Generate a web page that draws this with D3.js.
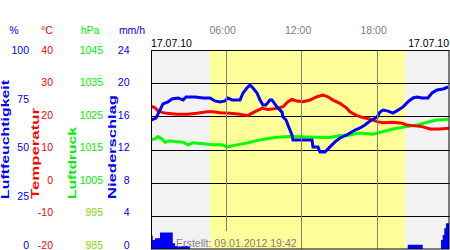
<!DOCTYPE html>
<html><head><meta charset="utf-8">
<script src="https://cdn.jsdelivr.net/npm/d3@7/dist/d3.min.js"></script>
<style>
body{margin:0;background:#fff;}
text{font-family:"Liberation Sans",Arial,sans-serif;}
</style></head><body>
<svg id="c" width="450" height="250"></svg>
<script>
// ---- data ----
const dateLabel = "17.07.10";
const timeTicks = [6, 12, 18];
const timeTickLabels = ["06:00", "12:00", "18:00"];
const sunrise = 4.75, sunset = 20.25;
const humTicks = [0, 25, 50, 75, 100];
const tempTicks = [-20, -10, 0, 10, 20, 30, 40];
const pressTicks = [985, 995, 1005, 1015, 1025, 1035, 1045];
const precTicks = [0, 4, 8, 12, 16, 20, 24];

const humT = [0.06,0.46,0.86,1.02,1.41,1.73,2.21,2.61,2.85,3.56,4.2,4.75,5.15,5.55,5.94,6.18,6.5,7.14,7.38,7.69,7.93,8.17,8.49,8.73,8.96,9.2,9.52,9.68,10.08,10.48,10.56,10.8,10.95,11.11,11.27,11.35,12.86,12.94,13.34,13.5,13.89,14.29,14.69,15.09,15.64,15.88,16.28,16.68,17.07,17.47,18.03,18.27,18.51,18.91,19.3,19.7,20.1,20.49,20.89,21.21,21.61,22.08,22.4,22.8,23.28,23.68];
const humV = [64.8,65.8,70.9,72.9,73.9,75.4,75.9,74.9,76.4,76.4,75.9,75.9,74.4,73.9,74.4,75.9,74.9,74.9,78.4,80.9,82.4,80.9,78.4,74.9,72.4,72.4,74.9,74.9,71.4,68.8,66.3,64.8,62.3,59.8,57.3,54.8,54.8,51.3,51.3,48.7,48.7,51.3,53.8,55.8,57.3,58.3,59.8,60.8,62.3,64.3,66.3,68.8,69.8,69.3,68.3,69.8,71.4,73.9,75.9,76.4,75.9,75.9,78.4,79.9,80.4,81.4];

const tempT = [0.06,0.38,0.62,0.94,1.34,2.13,2.93,3.72,4.52,5.0,5.55,6.34,7.14,7.77,7.93,8.33,8.89,9.36,10.08,10.56,10.95,11.27,11.67,12.15,12.7,13.26,13.74,14.13,14.53,15.09,15.64,15.88,16.44,16.92,17.47,18.03,18.51,19.3,20.02,20.41,20.89,21.61,22.24,23.04,23.75];
const tempV = [23.1,22.6,21.6,21.2,20.9,20.6,20.6,20.9,21.4,21.4,21.1,20.9,20.6,20.2,20.6,21.4,22.4,22.1,22.4,22.9,24.4,25.1,24.6,24.4,24.9,25.9,26.4,25.9,24.9,23.9,22.4,21.4,20.2,19.6,19.2,18.4,18.1,18.2,17.9,17.4,17.2,16.9,16.2,16.2,16.4];

const pressT = [0.06,0.38,0.62,0.94,1.18,1.57,2.13,2.61,3.0,3.4,4.2,5.0,5.71,6.1,6.9,7.77,7.93,8.73,9.52,10.08,11.11,13.26,14.29,15.09,15.88,16.44,16.92,17.71,18.51,19.3,20.41,21.21,22.0,22.8,23.67];
const pressV = [1017.9,1018.2,1018.9,1018.2,1017.2,1017.6,1017.3,1017.2,1016.4,1017.0,1016.7,1016.4,1016.4,1015.8,1016.4,1017.0,1017.2,1017.9,1018.4,1018.7,1018.9,1018.7,1018.6,1019.2,1019.4,1019.9,1019.9,1019.6,1020.4,1021.2,1021.9,1022.4,1023.2,1023.9,1024.1];

const precT = [0.06,0.2,0.38,0.78,1.79,1.97,3.16,20.47,21.66,23.12,23.25,23.38,23.51,23.75];
const precV = [1.6,1.1,1.3,2.0,0.7,0.35,0,0.5,0,1.1,1.7,2.5,3.1,3.1];

const createdText = "Erstellt: 09.01.2012 19:42";

// ---- layout ----
const L = 151, R = 449.5, T = 50, B = 249;
const svg = d3.select("#c");
const x = d3.scaleLinear().domain([0, 24]).range([150.2, 150.2 + 24 * 12.58]);
const yHum = d3.scaleLinear().domain([0, 100]).range([B, T]);
const yTemp = d3.scaleLinear().domain([-20, 40]).range([B, T]);
const yPress = d3.scaleLinear().domain([985, 1045]).range([B, T]);
const yPrec = d3.scaleLinear().domain([0, 24]).range([B, T]);
const lab = (d0, d1) => d3.scaleLinear().domain([d0, d1]).range([245, 50]);

svg.append("defs").append("clipPath").attr("id", "clip")
  .append("rect").attr("x", L).attr("y", T).attr("width", R - L).attr("height", B - T);

svg.append("rect").attr("x", L).attr("y", T).attr("width", R - L).attr("height", B - T).attr("fill", "#f2f2f2");
svg.append("rect").attr("x", x(sunrise)).attr("y", T).attr("width", x(sunset) - x(sunrise)).attr("height", B - T).attr("fill", "#ffff99");

svg.append("g").selectAll("line").data(tempTicks.slice(1, -1)).join("line")
  .attr("x1", L).attr("x2", R).attr("y1", d => Math.round(yTemp(d)) + 0.5).attr("y2", d => Math.round(yTemp(d)) + 0.5)
  .attr("stroke", "#000").attr("stroke-width", 1);

const g = svg.append("g").attr("clip-path", "url(#clip)");

const precData = precT.map((t, i) => [t, precV[i]]);
g.append("path").datum(precData)
  .attr("d", d3.area().curve(d3.curveStepAfter).x(d => x(d[0])).y0(B).y1(d => yPrec(d[1])))
  .attr("fill", "#0000ff");

function series(ts, vs, y, color) {
  const data = ts.map((t, i) => [t, vs[i]]);
  g.append("path").datum(data)
    .attr("d", d3.line().x(d => x(d[0])).y(d => y(d[1])))
    .attr("fill", "none").attr("stroke", color).attr("stroke-width", 3).attr("stroke-linejoin", "miter");
}
series(pressT, pressV, yPress, "#00ff00");
series(tempT, tempV, yTemp, "#ff0000");
series(humT, humV, yHum, "#0000ff");

svg.append("g").selectAll("line").data(timeTicks).join("line")
  .attr("x1", d => Math.round(x(d)) + 0.5).attr("x2", d => Math.round(x(d)) + 0.5)
  .attr("y1", T).attr("y2", d => d === 6 ? 231 : B)
  .attr("stroke", "#808080").attr("stroke-width", 1);

svg.append("rect").attr("x", L + 0.5).attr("y", T + 0.5).attr("width", R - L - 1).attr("height", B - T - 0.5)
  .attr("fill", "none").attr("stroke", "#000").attr("stroke-width", 1);

svg.append("g").selectAll("text").data(timeTicks).join("text")
  .attr("x", d => x(d) - 3).attr("y", 34).attr("text-anchor", "middle")
  .attr("font-size", "10.5px").attr("fill", "#808080").text((d, i) => timeTickLabels[i]);
svg.append("text").attr("x", 151).attr("y", 47).attr("font-size", "10.5px").attr("fill", "#000").text(dateLabel);
svg.append("text").attr("x", 449).attr("y", 47).attr("text-anchor", "end").attr("font-size", "10.5px").attr("fill", "#000").text(dateLabel);

svg.append("text").attr("x", 176).attr("y", 246.5).attr("font-size", "10.6px").attr("fill", "#808080").text(createdText);

function axis(scale, ticks, xr, color, colorFn) {
  const ax = svg.append("g").attr("transform", `translate(${xr},0)`)
    .call(d3.axisLeft(scale).tickValues(ticks).tickSize(0).tickPadding(0).tickFormat(d => String(d)));
  ax.select(".domain").remove();
  ax.selectAll("text").attr("font-size", "10.5px").attr("font-family", '"Liberation Sans",Arial,sans-serif')
    .attr("fill", d => colorFn ? colorFn(d) : color);
}
axis(lab(0, 100), humTicks, 29, "#0000ff");
axis(lab(-20, 40), tempTicks, 53, "#ff0000");
axis(lab(985, 1045), pressTicks, 103, "#00ee00", d => d < 1000 ? "#88d400" : "#00ee00");
axis(lab(0, 24), precTicks, 129.5, "#0000ff");

const units = [["%", 14, "#0000ff"], ["°C", 47, "#ff0000"], ["hPa", 90, "#00ee00"], ["mm/h", 132, "#0000ff"]];
svg.append("g").selectAll("text").data(units).join("text")
  .attr("x", d => d[1]).attr("y", 34).attr("text-anchor", "middle").attr("font-size", "10.5px")
  .attr("fill", d => d[2]).text(d => d[0]);

const titles = [["Luftfeuchtigkeit", 9, 119, "#0000ff"], ["Temperatur", 39, 91, "#ff0000"], ["Luftdruck", 76, 72, "#00ee00"], ["Niederschlag", 115.5, 104, "#0000ff"]];
svg.append("g").selectAll("text").data(titles).join("text")
  .attr("transform", d => `translate(${d[1]},199) rotate(-90)`)
  .attr("font-size", "11px").attr("font-weight", "bold").attr("fill", d => d[3])
  .attr("textLength", d => d[2]).attr("lengthAdjust", "spacingAndGlyphs")
  .text(d => d[0]);
</script>
</body></html>
